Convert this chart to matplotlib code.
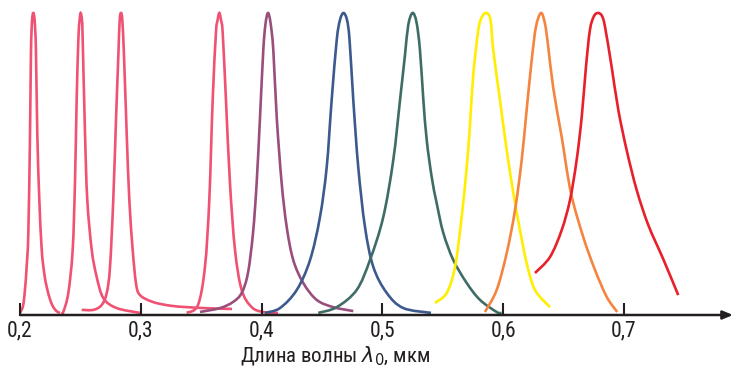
import matplotlib.pyplot as plt
from matplotlib.path import Path
from matplotlib.patches import PathPatch

# спектральные полосы, длина волны в нм и относительная интенсивность
nm1 = [200.0, 202.5, 204.1, 205.5, 206.9, 208.3, 209.1, 210.0, 211.0, 212.1, 213.2, 214.3, 216.0, 218.0, 220.0, 222.1, 225.0, 227.6, 230.5, 233.1]
i1 = [0.007, 0.03, 0.083, 0.16, 0.272, 0.603, 0.877, 0.975, 1.0, 0.975, 0.877, 0.603, 0.381, 0.215, 0.14, 0.093, 0.05, 0.026, 0.012, 0.007]

nm2 = [234.0, 235.8, 240.0, 243.6, 245.5, 246.9, 248.3, 249.3, 250.2, 251.3, 251.9, 253.8, 255.7, 259.4, 263.5, 269.0, 280.0, 299.3]
i2 = [0.005, 0.010, 0.073, 0.215, 0.437, 0.712, 0.911, 0.975, 1.0, 0.975, 0.911, 0.603, 0.381, 0.215, 0.126, 0.056, 0.023, 0.007]

nm3 = [251.1, 260.7, 267.6, 271.8, 274.5, 277.2, 279.5, 281.4, 282.5, 283.6, 284.7, 286.1, 288.3, 290.5, 293.3, 296.0, 299.3, 310.1, 324.2, 338.2, 357.3, 375.5]
i3 = [0.017, 0.017, 0.033, 0.073, 0.159, 0.381, 0.65, 0.858, 0.975, 1.0, 0.975, 0.858, 0.603, 0.381, 0.215, 0.106, 0.066, 0.043, 0.031, 0.026, 0.022, 0.020]

nm4 = [338.0, 347.3, 353.1, 356.7, 359.5, 362.2, 363.6, 365.0, 366.4, 367.8, 370.5, 373.8, 378.0, 383.5, 391.8, 401.2, 413.6]
i4 = [0.007, 0.033, 0.159, 0.381, 0.712, 0.934, 0.977, 1.0, 0.977, 0.934, 0.712, 0.437, 0.215, 0.083, 0.026, 0.010, 0.007]

nm5 = [349.0, 365.6, 376.3, 383.5, 388.7, 392.9, 395.9, 398.7, 401.4, 403.2, 405.3, 407.4, 409.7, 412.5, 416.6, 420.8, 426.2, 434.5, 445.6, 459.4, 475.9]
i5 = [0.010, 0.023, 0.043, 0.073, 0.139, 0.272, 0.437, 0.656, 0.877, 0.963, 1.0, 0.967, 0.877, 0.656, 0.437, 0.291, 0.182, 0.106, 0.050, 0.026, 0.013]

nm6 = [402.8, 415.2, 429.1, 440.1, 448.3, 453.9, 458.0, 462.2, 464.9, 467.8, 470.7, 472.8, 475.9, 480.0, 485.6, 492.5, 503.6, 517.3, 540.2]
i6 = [0.007, 0.023, 0.083, 0.182, 0.324, 0.490, 0.712, 0.911, 0.977, 1.0, 0.977, 0.911, 0.712, 0.490, 0.291, 0.159, 0.073, 0.023, 0.007]

nm7 = [446.9, 462.2, 478.7, 489.7, 500.7, 509.0, 514.6, 518.7, 521.4, 524.9, 528.2, 531.1, 533.9, 536.7, 540.8, 544.9, 550.4, 558.7, 569.8, 580.8, 594.6, 598.7]
i7 = [0.007, 0.026, 0.083, 0.182, 0.324, 0.513, 0.712, 0.861, 0.960, 1.0, 0.970, 0.877, 0.712, 0.579, 0.457, 0.371, 0.272, 0.182, 0.106, 0.050, 0.010, 0.007]

nm8 = [543.5, 553.2, 560.1, 565.6, 569.8, 572.5, 575.2, 579.4, 582.4, 586.2, 589.5, 591.8, 597.3, 602.9, 608.4, 613.9, 619.4, 626.3, 638.7]
i8 = [0.040, 0.073, 0.159, 0.324, 0.490, 0.629, 0.795, 0.944, 0.987, 1.0, 0.977, 0.877, 0.712, 0.546, 0.404, 0.281, 0.172, 0.083, 0.026]

nm9 = [584.9, 594.6, 602.9, 609.8, 615.3, 619.4, 623.6, 627.1, 631.3, 634.6, 637.1, 641.5, 648.4, 656.1, 666.3, 676.0, 685.7, 694.4]
i9 = [0.010, 0.083, 0.205, 0.348, 0.513, 0.679, 0.844, 0.954, 1.0, 0.964, 0.894, 0.750, 0.590, 0.404, 0.258, 0.149, 0.060, 0.010]

nm10 = [626.3, 638.7, 648.4, 655.3, 660.8, 665.0, 668.5, 671.8, 675.2, 678.7, 681.8, 684.3, 689.8, 695.3, 702.2, 710.5, 720.1, 732.5, 744.9]
i10 = [0.139, 0.192, 0.281, 0.381, 0.513, 0.656, 0.821, 0.944, 0.990, 1.0, 0.990, 0.954, 0.821, 0.679, 0.546, 0.414, 0.298, 0.185, 0.066]

ticks = [0.2, 0.3, 0.4, 0.5, 0.6, 0.7]
tick_labels = ["0,2", "0,3", "0,4", "0,5", "0,6", "0,7"]

curves = [(nm1, i1, "#ef5272"), (nm2, i2, "#ef5272"), (nm3, i3, "#ef5272"),
          (nm4, i4, "#ef5272"), (nm5, i5, "#9a4e7b"), (nm6, i6, "#3d5a8e"),
          (nm7, i7, "#3f6d66"), (nm8, i8, "#ffee00"), (nm9, i9, "#f5843f"),
          (nm10, i10, "#e8202a")]

fonts = ["Roboto Condensed", "Liberation Sans Narrow", "Roboto", "DejaVu Sans"]


def smooth_path(xs, ys):
    # кривая Безье через считанные точки (Catmull-Rom)
    n = len(xs)
    verts = [(xs[0], ys[0])]
    codes = [Path.MOVETO]
    for k in range(n - 1):
        a = max(k - 1, 0)
        b = min(k + 2, n - 1)
        c1 = (xs[k] + (xs[k + 1] - xs[a]) / 6, ys[k] + (ys[k + 1] - ys[a]) / 6)
        c2 = (xs[k + 1] - (xs[b] - xs[k]) / 6, ys[k + 1] - (ys[b] - ys[k]) / 6)
        verts += [c1, c2, (xs[k + 1], ys[k + 1])]
        codes += [Path.CURVE4] * 3
    return Path(verts, codes)


fig = plt.figure(figsize=(7.36, 3.69), dpi=100)
ax = fig.add_axes([20 / 736, 54 / 369, 713 / 736, 305 / 369])

for nm, inten, col in curves:
    p = smooth_path([v / 1000 for v in nm], inten)
    ax.add_patch(PathPatch(p, fill=False, edgecolor=col, lw=1.9,
                           capstyle="butt", clip_on=False))

x_end = 0.2 + 713 / 1208
ax.set_xlim(0.2, x_end)
ax.set_ylim(0, 305 / 302)

for s in ["top", "right", "left", "bottom"]:
    ax.spines[s].set_visible(False)
ax.annotate("", xy=(x_end, 0), xytext=(0.2, 0), xycoords="data",
            arrowprops=dict(arrowstyle="-|>,head_length=0.6,head_width=0.25",
                            color="#231f20", lw=1.8, shrinkA=0, shrinkB=0),
            annotation_clip=False)
ax.set_yticks([])
ax.set_xticks(ticks)
ax.set_xticklabels(tick_labels, fontsize=15.5, color="#231f20", family=fonts)
ax.tick_params(axis="x", direction="in", length=9, width=1.5, color="#231f20", pad=4)

fig.text(335 / 736, 13 / 369, r"Длина волны $\lambda_0$, мкм", ha="center", va="center",
         fontsize=15, color="#231f20", family=fonts)

plt.savefig("out.png", dpi=100)
